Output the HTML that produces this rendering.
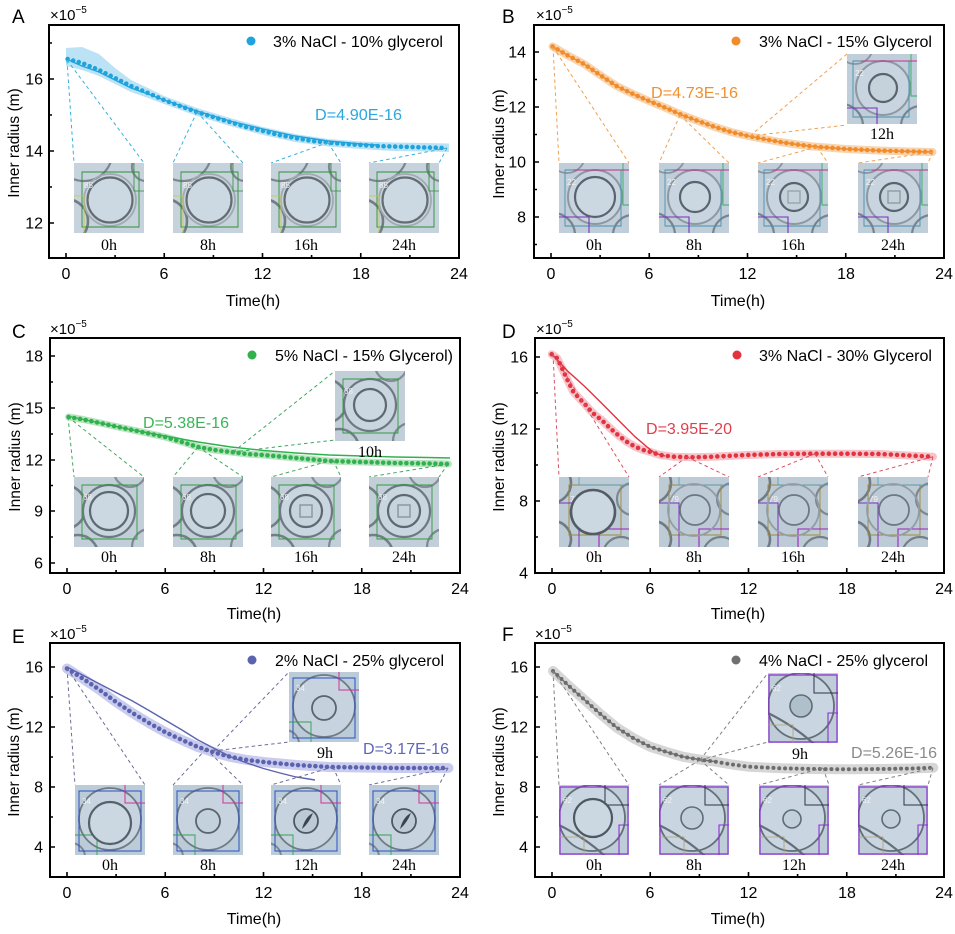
<!DOCTYPE html>
<html><head><meta charset="utf-8"><style>
html,body{margin:0;padding:0;background:#fff}
svg{display:block}
text{font-family:"Liberation Sans",Arial,sans-serif;fill:#000}
.tl{font-size:16px}
.yl{font-size:16px;text-anchor:end}
.xl{font-size:16px;text-anchor:middle}
.tt{font-size:16px;text-anchor:middle}
.yt{font-size:15.5px;text-anchor:middle}
.pl{font-size:19px}
.ex{font-size:15px}
.ex2{font-size:10px}
.sv{font-family:"Liberation Serif",serif;font-size:16px;text-anchor:middle}
.lg{font-size:16px}
.ax{fill:none;stroke:#000;stroke-width:2}
.tk{fill:none;stroke:#000;stroke-width:1.6}
.ds{fill:none;stroke-width:1;stroke-dasharray:3.5 3}
.dt{fill:none;stroke-width:4.6;stroke-linecap:round;stroke-dasharray:0 5.8}
.ft{fill:none;stroke-width:1.4}
.bd{fill:none;stroke-linecap:round;stroke-linejoin:round}
.il{font-size:8px;fill:#f2f2f2}
</style></head><body>
<svg width="955" height="934" viewBox="0 0 955 934" xmlns="http://www.w3.org/2000/svg">
<defs>
<symbol id="imA" viewBox="0 0 70 70">
<rect width="70" height="70" fill="#c6d2dc"/>
<circle cx="10" cy="-10" r="28" fill="none" stroke="#7c868e" stroke-width="2.2"/>
<circle cx="-8" cy="58" r="22" fill="none" stroke="#727c84" stroke-width="2.6"/>
<circle cx="72" cy="4" r="14" fill="none" stroke="#7e888f" stroke-width="2.2"/>
<circle cx="36" cy="37" r="26" fill="none" stroke="#a0aab1" stroke-width="1.8"/>
<circle cx="36" cy="37" r="22.5" fill="#ccd8e2" stroke="#646d73" stroke-width="2.2"/>
<path d="M8 9H65V64H8Z" fill="none" stroke="#2f8f3a" stroke-width="0.9"/>
<path d="M0 33H10V70" fill="none" stroke="#c8c840" stroke-width="0.8"/>
<path d="M60 0V28H70" fill="none" stroke="#2f8f3a" stroke-width="0.8"/>
<text x="10" y="25" class="il">85</text>
</symbol>
<symbol id="imB" viewBox="0 0 70 70">
<rect width="70" height="70" fill="#c0ceda"/>
<circle cx="-6" cy="72" r="22" fill="none" stroke="#7a848e" stroke-width="2.2"/>
<circle cx="74" cy="72" r="20" fill="none" stroke="#7a848e" stroke-width="2.2"/>
<circle cx="8" cy="-8" r="18" fill="none" stroke="#8a949e" stroke-width="1.8"/>
<circle cx="36" cy="34" r="27" fill="#c8d5e0" stroke="#8e98a0" stroke-width="2"/>
<path d="M6 7H62V63H6Z" fill="none" stroke="#4a8fb0" stroke-width="0.9"/>
<path d="M0 54H30V70" fill="none" stroke="#7a30c0" stroke-width="1.1"/>
<path d="M64 0V42H70" fill="none" stroke="#30b060" stroke-width="0.9"/>
<path d="M14 7H70" fill="none" stroke="#c0308a" stroke-width="1"/>
<text x="8" y="22" class="il">22</text>
</symbol>
<symbol id="imC" viewBox="0 0 70 70">
<rect width="70" height="70" fill="#c2cfd9"/>
<circle cx="-10" cy="30" r="22" fill="none" stroke="#747e86" stroke-width="2.6"/>
<circle cx="4" cy="78" r="20" fill="none" stroke="#747e86" stroke-width="2.6"/>
<circle cx="76" cy="70" r="18" fill="none" stroke="#7e8890" stroke-width="2.2"/>
<circle cx="56" cy="-6" r="16" fill="none" stroke="#848e96" stroke-width="2.2"/>
<circle cx="35" cy="34" r="26" fill="#c9d5df" stroke="#6e7880" stroke-width="2.2"/>
<path d="M8 8H63V62H8Z" fill="none" stroke="#2f9a40" stroke-width="0.9"/>
<text x="9" y="23" class="il">68</text>
</symbol>
<symbol id="imD" viewBox="0 0 70 70">
<rect width="70" height="70" fill="#bdcbd6"/>
<circle cx="-8" cy="6" r="20" fill="none" stroke="#707a82" stroke-width="2.6"/>
<circle cx="-6" cy="62" r="18" fill="none" stroke="#707a82" stroke-width="2.6"/>
<circle cx="74" cy="22" r="16" fill="none" stroke="#7e8890" stroke-width="2.2"/>
<circle cx="62" cy="78" r="18" fill="none" stroke="#768088" stroke-width="2.2"/>
<path d="M10 8H62V58H10Z" fill="none" stroke="#a0883a" stroke-width="0.9"/>
<path d="M0 26H20V70" fill="none" stroke="#7a30c0" stroke-width="1"/>
<path d="M40 70V52H70" fill="none" stroke="#a020c0" stroke-width="1.1"/>
<path d="M20 0V8H70" fill="none" stroke="#4aa0c0" stroke-width="0.8"/>
<text x="11" y="25" class="il">79</text>
</symbol>
<symbol id="imE" viewBox="0 0 70 70">
<rect width="70" height="70" fill="#bccbd8"/>
<circle cx="-4" cy="72" r="14" fill="none" stroke="#7e8890" stroke-width="2"/>
<circle cx="35" cy="34" r="31" fill="#c7d4e0" stroke="#707b84" stroke-width="1.8"/>
<path d="M4 6H66V66H4Z" fill="none" stroke="#2a50c0" stroke-width="1"/>
<path d="M50 0V18H70" fill="none" stroke="#d0309a" stroke-width="1"/>
<path d="M0 50H22V70" fill="none" stroke="#30a050" stroke-width="0.9"/>
<text x="7" y="19" class="il">34</text>
</symbol>
<symbol id="imF" viewBox="0 0 70 70">
<rect width="70" height="70" fill="#bfcdd9"/>
<circle cx="33" cy="33" r="33" fill="#c9d6e1" stroke="#646f78" stroke-width="1.8"/>
<path d="M0 40Q30 55 50 75" fill="none" stroke="#646f78" stroke-width="2.2"/>
<path d="M1 2H69V69H1Z" fill="none" stroke="#8a30d0" stroke-width="1.2"/>
<path d="M46 0V20H70" fill="none" stroke="#303048" stroke-width="1"/>
<path d="M60 70V40H70" fill="none" stroke="#8a30d0" stroke-width="1.1"/>
<path d="M0 52H25V70" fill="none" stroke="#b0a070" stroke-width="0.8"/>
<text x="4" y="18" class="il">62</text>
</symbol>
</defs>
<rect width="955" height="934" fill="#fff"/>

<!-- ================= PANEL A ================= -->
<polygon points="66,48 82,47 99,54 115,68 131,80 148,88 164,96 197,108 230,118 263,127 295,134 328,139 361,141.5 393,142.5 426,143 449,143.5 449,152 426,151.5 393,151 361,149 328,146.5 295,142 263,135 230,126 197,116 164,104 148,98 131,92 115,84 99,76 82,70 66,66" fill="#aadcf2" opacity="0.8"/>
<polyline class="ft" stroke="#1fa3dc" points="66,59 82,66 99,72 115,80 131,88 148,94 164,100 197,111 230,121 263,129 295,136 328,141 361,144 377,145"/>
<polyline class="dt" stroke="#1fa3dc" points="67.6,59 82,63 99,70 115,78 131,86 148,93 164,100 180,106 197,112 213,117 230,122 246,127 263,131 279,135 295,138 312,141 328,142.5 344,144 361,145 377,146 393,146.5 410,147 426,147.5 447,148"/>
<path class="ds" stroke="#3ab0d8" d="M67,60L74,163M67,60L144,163M197,112L173,163M197,112L243,163M328,142.5L271,163M328,142.5L341,163M447,148L369,163M447,148L439,163"/>
<use href="#imA" x="74" y="163" width="70" height="70"/>
<use href="#imA" x="173" y="163" width="70" height="70"/>
<use href="#imA" x="271" y="163" width="70" height="70"/>
<use href="#imA" x="369" y="163" width="70" height="70"/>
<text class="sv" x="109" y="250">0h</text>
<text class="sv" x="208" y="250">8h</text>
<text class="sv" x="306" y="250">16h</text>
<text class="sv" x="404" y="250">24h</text>
<circle cx="251" cy="41" r="4.5" fill="#1fa3dc"/>
<text class="lg" x="273" y="47" textLength="170" lengthAdjust="spacingAndGlyphs">3% NaCl - 10% glycerol</text>
<text class="lg" x="315" y="120" style="fill:#29a9dd" textLength="87" lengthAdjust="spacingAndGlyphs">D=4.90E-16</text>
<rect class="ax" x="49" y="25" width="410" height="233"/>
<path class="tk" d="M66 258v-5M164.25 258v-5M262.5 258v-5M360.75 258v-5M115.1 258v-3M213.4 258v-3M311.6 258v-3M409.9 258v-3M49 79h5M49 151h5M49 223h5M49 43h3M49 115h3M49 187h3"/>
<text class="yl" x="43" y="228.5">12</text>
<text class="yl" x="43" y="156.5">14</text>
<text class="yl" x="43" y="84.5">16</text>
<text class="xl" x="66" y="279">0</text>
<text class="xl" x="164" y="279">6</text>
<text class="xl" x="262.5" y="279">12</text>
<text class="xl" x="361" y="279">18</text>
<text class="xl" x="459" y="279">24</text>
<text class="tt" x="253" y="306">Time(h)</text>
<text class="yt" transform="translate(19,143) rotate(-90)">Inner radius (m)</text>
<text class="pl" x="12" y="23">A</text>
<text class="ex" x="50" y="20">×10<tspan class="ex2" dy="-7">−5</tspan></text>

<!-- ================= PANEL B ================= -->
<polyline class="bd" stroke="#f8d3ad" stroke-width="8" points="552.6,46.5 567,55 584,64 600,75 616.5,86 633,94 649,101 666,108 682,115 698,121 715,127 731,132 748,136 764,139 780,142 797,144.5 813,146.5 846,149 878,150.5 911,151.5 932.5,152"/>
<polyline class="ft" stroke="#f08c2a" points="552.6,46.5 567,55 584,64 600,75 616.5,86 633,94 649,101 666,108 682,115 698,121 715,127 731,132 748,136 764,139 780,142 797,144.5 813,146.5 846,149 878,150.5 911,151.5 932.5,152"/>
<polyline class="dt" stroke="#f08c2a" points="552.6,46.5 567,55 584,64 600,75 616.5,86 633,94 649,101 666,108 682,115 698,121 715,127 731,132 748,136 764,139 780,142 797,144.5 813,146.5 846,149 878,150.5 911,151.5 932.5,152"/>
<path class="ds" stroke="#f0a050" d="M553,47L559,163M553,47L629,163M680,115L659,163M680,115L729,163M750,136L847,54M750,136L847,125M817,147L758,163M817,147L828,163M933,152L858,163M933,152L928,163"/>
<g transform="translate(559,163)"><use href="#imB" width="70" height="70"/><circle cx="36" cy="34" r="20" fill="#cbd8e2" stroke="#5a646e" stroke-width="2.2"/></g>
<g transform="translate(659,163)"><use href="#imB" width="70" height="70"/><circle cx="36" cy="34" r="15" fill="#cbd8e2" stroke="#5a646e" stroke-width="2.2"/></g>
<g transform="translate(758,163)"><use href="#imB" width="70" height="70"/><circle cx="36" cy="34" r="14" fill="#c5d2dc" stroke="#5a646e" stroke-width="2.2"/><rect x="30" y="28" width="12" height="12" fill="none" stroke="#9ca6af" stroke-width="1.5"/></g>
<g transform="translate(858,163)"><use href="#imB" width="70" height="70"/><circle cx="36" cy="34" r="14" fill="#c5d2dc" stroke="#5a646e" stroke-width="2.2"/><rect x="30" y="28" width="12" height="12" fill="none" stroke="#949ea7" stroke-width="1.5"/></g>
<g transform="translate(847,54)"><use href="#imB" width="70" height="70"/><circle cx="36" cy="34" r="14" fill="#c5d2dc" stroke="#5a646e" stroke-width="2.2"/></g>
<text class="sv" x="594" y="250">0h</text>
<text class="sv" x="694" y="250">8h</text>
<text class="sv" x="793" y="250">16h</text>
<text class="sv" x="893" y="250">24h</text>
<text class="sv" x="882" y="139">12h</text>
<circle cx="736" cy="41" r="4.5" fill="#f08c2a"/>
<text class="lg" x="759" y="47" textLength="173" lengthAdjust="spacingAndGlyphs">3% NaCl - 15% Glycerol</text>
<text class="lg" x="651" y="98" style="fill:#f0902e" textLength="87" lengthAdjust="spacingAndGlyphs">D=4.73E-16</text>
<rect class="ax" x="534" y="25" width="410" height="233"/>
<path class="tk" d="M551 258v-5M649.25 258v-5M747.5 258v-5M845.75 258v-5M600.1 258v-3M698.4 258v-3M796.6 258v-3M894.9 258v-3M534 52h5M534 107h5M534 162h5M534 217h5M534 79.5h3M534 134.5h3M534 189.5h3M534 244.5h3"/>
<text class="yl" x="526" y="222.5">8</text>
<text class="yl" x="526" y="167.5">10</text>
<text class="yl" x="526" y="112.5">12</text>
<text class="yl" x="526" y="57.5">14</text>
<text class="xl" x="551" y="279">0</text>
<text class="xl" x="649" y="279">6</text>
<text class="xl" x="747.5" y="279">12</text>
<text class="xl" x="846" y="279">18</text>
<text class="xl" x="944" y="279">24</text>
<text class="tt" x="738" y="306">Time(h)</text>
<text class="yt" transform="translate(504,144) rotate(-90)">Inner radius (m)</text>
<text class="pl" x="502" y="23">B</text>
<text class="ex" x="536" y="20">×10<tspan class="ex2" dy="-7">−5</tspan></text>

<!-- ================= PANEL C ================= -->
<polyline class="bd" stroke="#b8e3c0" stroke-width="7" points="68.6,417 83,419.5 100,423 116,426.5 132.5,430 149,433.5 165,437 182,442 198,447 214,450 231,452 247,454 263.5,455 296,458 329,461 362,462 394.5,463 427,463.5 448.5,464"/>
<polyline class="ft" stroke="#2fb24c" points="67,416 100,423 132.5,430 165,436 198,442 231,447 263.5,450.5 296,453 329,455 362,456 394.5,457 427,457.5 450,458"/>
<polyline class="dt" stroke="#2fb24c" points="68.6,417 83,419.5 100,423 116,426.5 132.5,430 149,433.5 165,437 182,442 198,447 214,450 231,452 247,454 263.5,455 296,458 329,461 362,462 394.5,463 427,463.5 448.5,464"/>
<path class="ds" stroke="#40a860" d="M68,417L74,477M68,417L144,477M198,447L173,477M198,447L243,477M233,452L335,371M233,452L335,440M333,460L271,477M333,460L341,477M448,464L369,477M448,464L439,477"/>
<g transform="translate(74,477)"><use href="#imC" width="70" height="70"/><circle cx="35" cy="34" r="19" fill="#cbd7e1" stroke="#5e6870" stroke-width="2.2"/></g>
<g transform="translate(173,477)"><use href="#imC" width="70" height="70"/><circle cx="35" cy="34" r="17" fill="#cbd7e1" stroke="#5e6870" stroke-width="2.2"/></g>
<g transform="translate(271,477)"><use href="#imC" width="70" height="70"/><circle cx="35" cy="34" r="16" fill="#c7d3dd" stroke="#5e6870" stroke-width="2.2"/><rect x="29" y="28" width="12" height="12" fill="none" stroke="#8e98a0" stroke-width="1.5"/></g>
<g transform="translate(369,477)"><use href="#imC" width="70" height="70"/><circle cx="35" cy="34" r="16" fill="#c7d3dd" stroke="#5e6870" stroke-width="2.2"/><rect x="29" y="28" width="12" height="12" fill="none" stroke="#8e98a0" stroke-width="1.5"/></g>
<g transform="translate(335,371)"><use href="#imC" width="70" height="70"/><circle cx="35" cy="34" r="16" fill="#cbd7e1" stroke="#5e6870" stroke-width="2.2"/></g>
<text class="sv" x="109" y="562">0h</text>
<text class="sv" x="208" y="562">8h</text>
<text class="sv" x="306" y="562">16h</text>
<text class="sv" x="404" y="562">24h</text>
<text class="sv" x="370" y="457">10h</text>
<circle cx="252" cy="355" r="4.5" fill="#2fb24c"/>
<text class="lg" x="275" y="361" textLength="178" lengthAdjust="spacingAndGlyphs">5% NaCl - 15% Glycerol)</text>
<text class="lg" x="143" y="428" style="fill:#3ab555" textLength="86" lengthAdjust="spacingAndGlyphs">D=5.38E-16</text>
<rect class="ax" x="50" y="338" width="410" height="235"/>
<path class="tk" d="M67 573v-5M165.25 573v-5M263.5 573v-5M361.75 573v-5M116.1 573v-3M214.4 573v-3M312.6 573v-3M410.9 573v-3M50 356h5M50 408h5M50 460h5M50 511h5M50 563h5M50 382h3M50 434h3M50 485.5h3M50 537h3"/>
<text class="yl" x="43" y="568.5">6</text>
<text class="yl" x="43" y="516.5">9</text>
<text class="yl" x="43" y="465.5">12</text>
<text class="yl" x="43" y="413.5">15</text>
<text class="yl" x="43" y="361.5">18</text>
<text class="xl" x="67" y="594">0</text>
<text class="xl" x="165" y="594">6</text>
<text class="xl" x="263.5" y="594">12</text>
<text class="xl" x="362" y="594">18</text>
<text class="xl" x="460" y="594">24</text>
<text class="tt" x="254" y="619">Time(h)</text>
<text class="yt" transform="translate(20,457) rotate(-90)">Inner radius (m)</text>
<text class="pl" x="12" y="338">C</text>
<text class="ex" x="50" y="334">×10<tspan class="ex2" dy="-7">−5</tspan></text>

<!-- ================= PANEL D ================= -->
<polyline class="bd" stroke="#f6c4ca" stroke-width="8" points="551.7,354.3 557.3,358.3 563.3,371 568.3,381.7 573.3,391.7 579.3,398.3 585,404.3 590,410 595,415 601.7,420 606.7,425 613.3,431 620,436.7 626.7,441.7 635,446.7 643.3,450 651.7,452.3 660,455 673.3,456.7 693,457.3 713,456.7 746.7,455 780,454 813,453.7 846.7,453.7 880,454 913,455.7 933,456.7"/>
<polyline class="ft" stroke="#e2343f" points="551.7,354 568.3,371.7 585,386.7 601.7,403.3 618.3,420 635,436.7 646.7,446.7 655,453.3 665,456"/>
<polyline class="dt" stroke="#e2343f" style="stroke-dasharray:0 6.2" points="551.7,354.3 557.3,358.3 563.3,371 568.3,381.7 573.3,391.7 579.3,398.3 585,404.3 590,410 595,415 601.7,420 606.7,425 613.3,431 620,436.7 626.7,441.7 635,446.7 643.3,450 651.7,452.3 660,455 673.3,456.7 693,457.3 713,456.7 746.7,455 780,454 813,453.7 846.7,453.7 880,454 913,455.7 933,456.7"/>
<path class="ds" stroke="#d85060" d="M553,354L559,477M553,354L629,477M687,457L659,477M687,457L729,477M815,453.7L758,477M815,453.7L828,477M933,456.7L858,477M933,456.7L928,477"/>
<g transform="translate(559,477)"><use href="#imD" width="70" height="70"/><circle cx="34" cy="35" r="22" fill="#cbd8e2" stroke="#535c64" stroke-width="2.6"/></g>
<g transform="translate(659,477)"><use href="#imD" width="70" height="70"/><circle cx="35" cy="33" r="26" fill="none" stroke="#929ca4" stroke-width="1.8"/><circle cx="36" cy="33" r="15" fill="#bfcdd8" stroke="#6e7880" stroke-width="1.8"/></g>
<g transform="translate(758,477)"><use href="#imD" width="70" height="70"/><circle cx="35" cy="33" r="26" fill="none" stroke="#929ca4" stroke-width="1.8"/><circle cx="36" cy="33" r="15" fill="#bfcdd8" stroke="#6e7880" stroke-width="1.8"/></g>
<g transform="translate(858,477)"><use href="#imD" width="70" height="70"/><circle cx="35" cy="33" r="26" fill="none" stroke="#929ca4" stroke-width="1.8"/><circle cx="36" cy="33" r="15" fill="#bfcdd8" stroke="#6e7880" stroke-width="1.8"/></g>
<text class="sv" x="594" y="562">0h</text>
<text class="sv" x="694" y="562">8h</text>
<text class="sv" x="793" y="562">16h</text>
<text class="sv" x="893" y="562">24h</text>
<circle cx="737" cy="355" r="4.5" fill="#e2343f"/>
<text class="lg" x="759" y="361" textLength="173" lengthAdjust="spacingAndGlyphs">3% NaCl - 30% Glycerol</text>
<text class="lg" x="646" y="434" style="fill:#e0404c" textLength="86" lengthAdjust="spacingAndGlyphs">D=3.95E-20</text>
<rect class="ax" x="535" y="338" width="409" height="235"/>
<path class="tk" d="M552 573v-5M650.25 573v-5M748.5 573v-5M846.75 573v-5M601.1 573v-3M699.4 573v-3M797.6 573v-3M895.9 573v-3M535 357h5M535 429h5M535 501h5M535 393h3M535 465h3M535 537h3"/>
<text class="yl" x="528" y="578.5">4</text>
<text class="yl" x="528" y="506.5">8</text>
<text class="yl" x="528" y="434.5">12</text>
<text class="yl" x="528" y="362.5">16</text>
<text class="xl" x="552" y="594">0</text>
<text class="xl" x="650" y="594">6</text>
<text class="xl" x="748.5" y="594">12</text>
<text class="xl" x="847" y="594">18</text>
<text class="xl" x="944" y="594">24</text>
<text class="tt" x="738" y="619">Time(h)</text>
<text class="yt" transform="translate(504,457) rotate(-90)">Inner radius (m)</text>
<text class="pl" x="502" y="338">D</text>
<text class="ex" x="536" y="334">×10<tspan class="ex2" dy="-7">−5</tspan></text>

<!-- ================= PANEL E ================= -->
<polyline class="bd" stroke="#cacced" stroke-width="10" points="67,668.5 83.4,679 99.8,690 116,702 132.5,713 149,723 165,732 182,740 198,747 214.4,752.5 231,757 247,760 263.5,762 296,765 329,767 362,767.5 394.5,768 427,768 448.5,768"/>
<polyline class="ft" stroke="#5b63b0" points="67,667 83.4,675.5 99.8,684 116,692.5 132.5,701 149,710.5 165,720 182,730 198,740 214.4,748.5 231,757 247,763 263.5,768.5 280,773 296,777 315,780"/>
<polyline class="dt" stroke="#5b63b0" points="67,668.5 83.4,679 99.8,690 116,702 132.5,713 149,723 165,732 182,740 198,747 214.4,752.5 231,757 247,760 263.5,762 296,765 329,767 362,767.5 394.5,768 427,768 448.5,768"/>
<path class="ds" stroke="#6a6e98" d="M67,668L75,785M67,668L145,785M206,749L173,785M206,749L243,785M213,751L289,672M213,751L289,742M333,767L271,785M333,767L341,785M448,768L369,785M448,768L439,785"/>
<g transform="translate(75,785)"><use href="#imE" width="70" height="70"/><circle cx="35" cy="38" r="21" fill="#cbd8e2" stroke="#56606a" stroke-width="2.2"/></g>
<g transform="translate(173,785)"><use href="#imE" width="70" height="70"/><circle cx="35" cy="36" r="12" fill="#c3d1dd" stroke="#5a646e" stroke-width="1.8"/></g>
<g transform="translate(271,785)"><use href="#imE" width="70" height="70"/><circle cx="35" cy="36" r="12" fill="#bccad6" stroke="#4e5862" stroke-width="1.8"/><path d="M31 44Q34 32 42 28Q38 38 31 44Z" fill="#3a4450"/></g>
<g transform="translate(369,785)"><use href="#imE" width="70" height="70"/><circle cx="35" cy="36" r="12" fill="#bccad6" stroke="#4e5862" stroke-width="1.8"/><path d="M31 44Q34 32 42 28Q38 38 31 44Z" fill="#3a4450"/></g>
<g transform="translate(289,672)"><use href="#imE" width="70" height="70"/><circle cx="35" cy="36" r="12" fill="#c3d1dd" stroke="#5a646e" stroke-width="1.8"/></g>
<text class="sv" x="110" y="870">0h</text>
<text class="sv" x="208" y="870">8h</text>
<text class="sv" x="306" y="870">12h</text>
<text class="sv" x="404" y="870">24h</text>
<text class="sv" x="325" y="758">9h</text>
<circle cx="252" cy="660" r="4.5" fill="#5b63b0"/>
<text class="lg" x="275" y="666" textLength="169" lengthAdjust="spacingAndGlyphs">2% NaCl - 25% glycerol</text>
<text class="lg" x="363" y="754" style="fill:#5e66b6" textLength="86" lengthAdjust="spacingAndGlyphs">D=3.17E-16</text>
<rect class="ax" x="50" y="643" width="410" height="234"/>
<path class="tk" d="M67 877v-5M165.25 877v-5M263.5 877v-5M361.75 877v-5M116.1 877v-3M214.4 877v-3M312.6 877v-3M410.9 877v-3M50 667h5M50 727h5M50 787h5M50 847h5M50 697h3M50 757h3M50 817h3"/>
<text class="yl" x="43" y="852.5">4</text>
<text class="yl" x="43" y="792.5">8</text>
<text class="yl" x="43" y="732.5">12</text>
<text class="yl" x="43" y="672.5">16</text>
<text class="xl" x="67" y="898">0</text>
<text class="xl" x="165" y="898">6</text>
<text class="xl" x="263.5" y="898">12</text>
<text class="xl" x="362" y="898">18</text>
<text class="xl" x="460" y="898">24</text>
<text class="tt" x="254" y="924">Time(h)</text>
<text class="yt" transform="translate(19,762) rotate(-90)">Inner radius (m)</text>
<text class="pl" x="12" y="643">E</text>
<text class="ex" x="50" y="639">×10<tspan class="ex2" dy="-7">−5</tspan></text>

<!-- ================= PANEL F ================= -->
<polyline class="bd" stroke="#d6d6d6" stroke-width="10" points="553,671 568.4,685.5 584.7,700 601,714.5 617.3,728 634,738.5 650,746.7 666.6,752 682.7,756.7 699,759.5 715.7,761.7 732,764.5 748.3,766.7 781,768.3 813.3,769 846,769.3 880,769 913,768.5 933.3,767.7"/>
<polyline class="ft" stroke="#707070" points="553,671 568.4,685.5 584.7,700 601,714.5 617.3,728 634,738.5 650,746.7 666.6,752 682.7,756.7 699,759.5 715.7,761.7"/>
<polyline class="dt" stroke="#6c6c6c" style="stroke-width:4" points="553,671 568.4,685.5 584.7,700 601,714.5 617.3,728 634,738.5 650,746.7 666.6,752 682.7,756.7 699,759.5 715.7,761.7 732,764.5 748.3,766.7 781,768.3 813.3,769 846,769.3 880,769 913,768.5 933.3,767.7"/>
<path class="ds" stroke="#808080" d="M553,671L559,785M553,671L629,785M700,760L659,785M700,760L729,785M700,760L768,673M700,760L768,742M823,768L759,785M823,768L829,785M933,768L858,785M933,768L928,785"/>
<g transform="translate(559,785)"><use href="#imF" width="70" height="70"/><circle cx="34" cy="33" r="19" fill="#cbd8e2" stroke="#4e5862" stroke-width="2.2"/></g>
<g transform="translate(659,785)"><use href="#imF" width="70" height="70"/><circle cx="33" cy="33" r="11" fill="#c2d0dc" stroke="#5e6c76" stroke-width="1.6"/></g>
<g transform="translate(759,785)"><use href="#imF" width="70" height="70"/><circle cx="33" cy="34" r="9" fill="#c2d0dc" stroke="#5e6c76" stroke-width="1.6"/></g>
<g transform="translate(858,785)"><use href="#imF" width="70" height="70"/><circle cx="33" cy="34" r="9" fill="#c2d0dc" stroke="#5e6c76" stroke-width="1.6"/></g>
<g transform="translate(768,673)"><use href="#imF" width="70" height="70"/><circle cx="33" cy="33" r="11" fill="#b0bfcc" stroke="#5e6c76" stroke-width="1.6"/></g>
<text class="sv" x="594" y="870">0h</text>
<text class="sv" x="694" y="870">8h</text>
<text class="sv" x="794" y="870">12h</text>
<text class="sv" x="893" y="870">24h</text>
<text class="sv" x="800" y="759">9h</text>
<circle cx="736" cy="660" r="4.5" fill="#707070"/>
<text class="lg" x="759" y="666" textLength="169" lengthAdjust="spacingAndGlyphs">4% NaCl - 25% glycerol</text>
<text class="lg" x="851" y="758" style="fill:#8a8a8a" textLength="86" lengthAdjust="spacingAndGlyphs">D=5.26E-16</text>
<rect class="ax" x="535" y="643" width="409" height="234"/>
<path class="tk" d="M552 877v-5M650.25 877v-5M748.5 877v-5M846.75 877v-5M601.1 877v-3M699.4 877v-3M797.6 877v-3M895.9 877v-3M535 667h5M535 727h5M535 787h5M535 847h5M535 697h3M535 757h3M535 817h3"/>
<text class="yl" x="528" y="852.5">4</text>
<text class="yl" x="528" y="792.5">8</text>
<text class="yl" x="528" y="732.5">12</text>
<text class="yl" x="528" y="672.5">16</text>
<text class="xl" x="552" y="898">0</text>
<text class="xl" x="650" y="898">6</text>
<text class="xl" x="748.5" y="898">12</text>
<text class="xl" x="847" y="898">18</text>
<text class="xl" x="944" y="898">24</text>
<text class="tt" x="738" y="924">Time(h)</text>
<text class="yt" transform="translate(504,762) rotate(-90)">Inner radius (m)</text>
<text class="pl" x="502" y="641">F</text>
<text class="ex" x="535" y="639">×10<tspan class="ex2" dy="-7">−5</tspan></text>
</svg>
</body></html>
